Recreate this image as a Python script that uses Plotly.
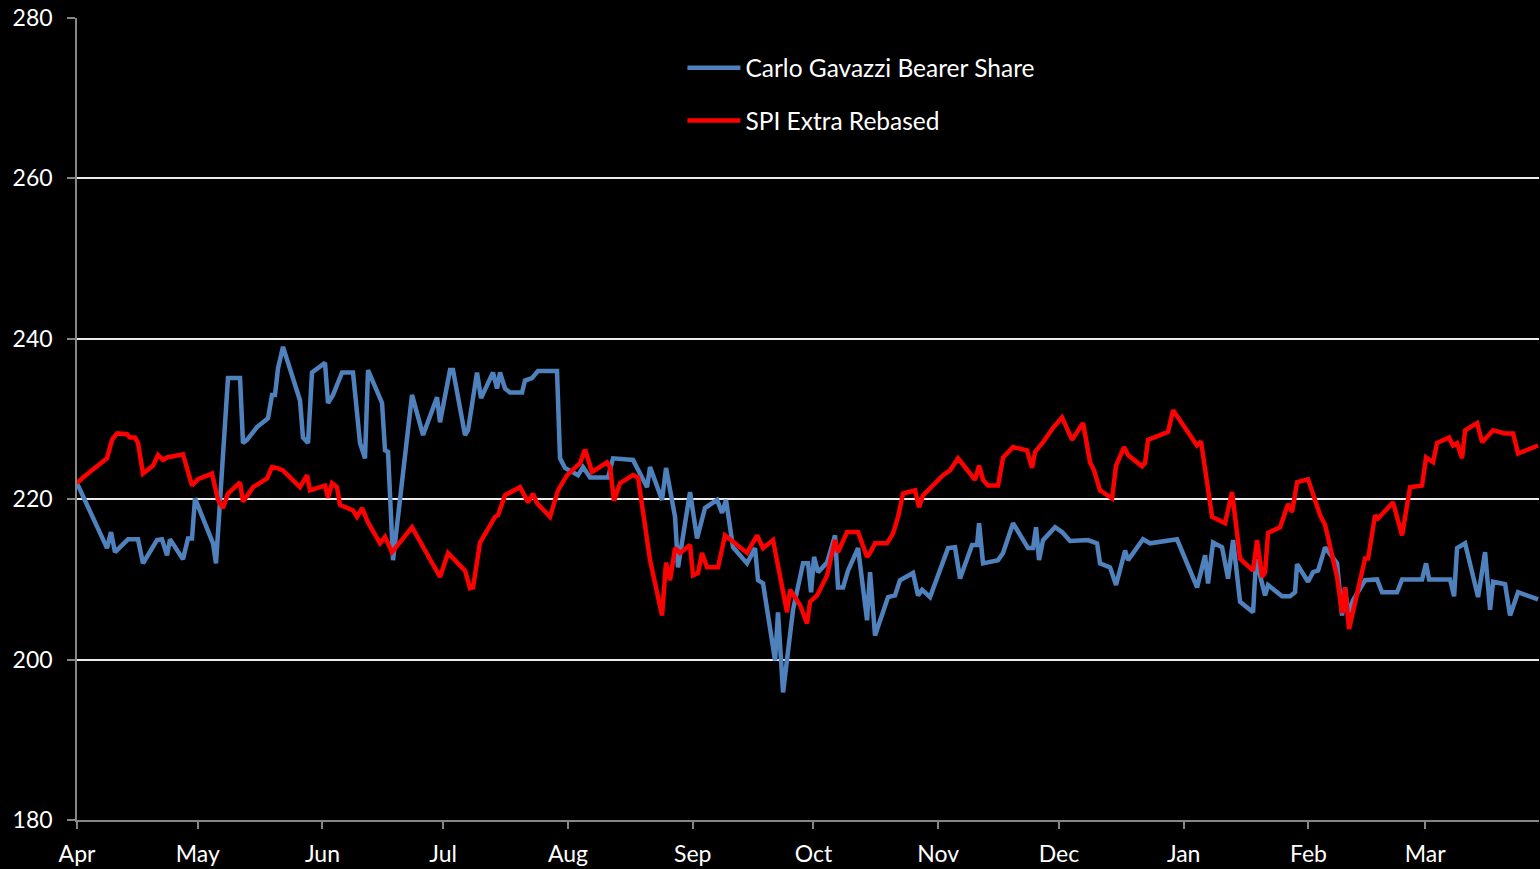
import pandas as pd
import plotly.graph_objects as go

START = "2011-04-01"

# Carlo Gavazzi Bearer Share: days since 1 Apr 2011, and values
cg_days = [0, 7.46, 8.45, 9.44, 12.67, 15.16, 16.40, 19.88, 21.12, 22.37, 23.11, 26.34, 27.58, 28.58,
           29.32, 32.55, 33.80, 34.54, 36.28, 37.52, 40.51, 41.25, 42.25, 44.73, 47.47, 48.46, 49.20,
           49.95, 51.19, 55.42, 56.16, 57.41, 58.40, 61.63, 62.38, 63.62, 65.86, 68.59, 70.33, 71.57,
           72.32, 75.80, 76.54, 77.29, 78.53, 83.25, 85.99, 89.46, 90.21, 92.69, 93.44, 96.42, 97.17,
           99.40, 100.40, 103.38, 104.37, 105.12, 106.36, 107.60, 110.59, 111.33, 113.07, 114.56,
           119.28, 120.03, 121.27, 124.50, 125.75, 127.49, 131.96, 133.20, 138.17, 141.65, 142.40,
           145.38, 146.37, 148.61, 149.35, 152.34, 154.08, 156.06, 159.05, 160.29, 161.28, 163.02,
           166.50, 168.49, 169.23, 170.48, 173.46, 174.20, 175.45, 177.93, 180.42, 181.66, 182.41,
           183.15, 184.15, 186.38, 188.37, 189.12, 190.36, 191.60, 194.09, 196.32, 197.07, 198.31,
           201.54, 203.28, 204.5, 207.75, 209.00, 209.99, 211.98, 216.45, 218.19, 219.43, 222.42,
           223.66, 224.16, 225.15, 228.88, 230.12, 232.60, 236.33, 237.57, 238.32, 239.07, 240.06,
           243.04, 244.78, 246.77, 251.24, 253.48, 254.22, 256.71, 258.20, 260.44, 261.18, 264.91,
           266.65, 273.36, 278.33, 280.32, 281.06, 282.31, 284.54, 286.03, 287.28, 289.02, 292.25,
           292.99, 295.23, 295.97, 299.45, 301.44, 302.68, 303.18, 305.91, 307.16, 308.40, 310.14,
           313.12, 314.36, 315.11, 315.85, 317.10, 320.08, 321.82, 323.06, 324.30, 328.03, 329.27,
           334.24, 335.24, 335.98, 341.20, 342.20, 342.94, 344.93, 348.16, 349.90, 351.14, 351.89,
           354.87, 356.11, 358.10, 363.07]
cg_vals = [222, 213.9, 215.9, 213.4, 215, 215, 212, 214.9, 215, 213, 215, 212.5, 215.1, 215.1,
           220.1, 215.9, 214.5, 212, 224.9, 235.1, 235.1, 227, 227.4, 229, 230.1, 233, 233,
           236.3, 239, 232.3, 227.7, 227, 235.8, 237, 232, 233, 235.8, 235.8, 227, 225.1,
           236.1, 232, 226.1, 225.9, 212.4, 233, 228, 232.7, 229.6, 236.1, 236.1, 228, 228.6,
           235.8, 232.6, 235.8, 233.8, 235.8, 233.8, 233.3, 233.3, 234.8, 235.1, 236,
           236, 225.1, 223.9, 223, 224, 222.7, 222.7, 225.1, 224.9, 221.5, 224,
           219.9, 223.9, 217.8, 211.5, 220.9, 215.1, 218.9, 219.9, 218.3, 219.9, 214,
           212, 213.9, 209.9, 209.5, 199.9, 205.9, 195.9, 206.2, 212, 212, 208.4,
           212.8, 210.9, 212.1, 215.5, 209, 209, 211.1, 213.9, 204.9, 210.9, 203,
           207.8, 208, 209.9, 210.8, 208, 208.7, 207.8, 213.9, 214, 210.1, 214.3,
           214.3, 217, 212, 212.4, 213.3, 217, 213.9, 213.9, 216.5, 212.4, 214.9,
           216.5, 215.9, 214.8, 214.9, 214.5, 212, 211.5, 209.3, 213.6, 212.4, 215,
           214.5, 215, 209, 213, 209.5, 214.6, 214, 210.1, 214.9, 207.2, 205.9,
           212.5, 208, 209.3, 207.9, 207.9, 208.4, 211.9, 209.7, 210.9, 211.1, 214,
           212, 205.5, 209, 205.8, 207.4, 209.9, 209.9, 210, 208.4, 208.4, 210,
           210, 212, 210, 210, 207.9, 213.9, 214.5, 207.8, 213.4, 206.2, 209.7,
           209.4, 205.5, 208.4, 207.5]

# SPI Extra Rebased: days since 1 Apr 2011, and values
spi_days = [0, 1.49, 6.21, 7.46, 8.70, 9.94, 12.43, 13.17, 14.41, 15.16, 16.40, 18.89, 20.13, 21.37,
            22.37, 26.34, 28.58, 30.07, 33.55, 35.04, 36.28, 37.52, 40.51, 41.25, 43.74, 47.22,
            48.46, 49.70, 51.19, 55.42, 57.16, 57.90, 61.63, 62.38, 63.37, 64.61, 65.36, 68.59,
            69.58, 70.83, 72.32, 75.30, 76.54, 78.28, 83.25, 90.21, 92.20, 96.42, 97.66, 98.41,
            100.15, 103.88, 104.62, 106.36, 110.09, 112.08, 113.32, 114.31, 117.54, 119.53, 121.77,
            125.00, 126.24, 127.98, 131.71, 132.46, 133.45, 134.94, 138.17, 139.41, 142.40, 145.38,
            146.37, 147.37, 148.61, 149.85, 152.34, 153.08, 154.32, 155.32, 156.56, 159.29, 161.03,
            166.50, 168.99, 170.48, 172.96, 174.70, 176.44, 177.19, 179.67, 181.41, 182.16, 183.90,
            186.38, 188.37, 189.12, 191.35, 194.09, 196.32, 197.07, 198.31, 201.29, 202.78, 204.03,
            205.27, 208.25, 209.24, 210.24, 211.48, 215.21, 216.95, 218.94, 223.16, 224.16, 225.15,
            226.39, 228.88, 230.12, 232.60, 236.08, 237.33, 238.07, 240.06, 242.54, 244.78, 247.27,
            250.00, 251.74, 252.73, 254.22, 257.21, 258.20, 260.19, 261.18, 264.66, 265.41, 266.15,
            271.12, 272.37, 278.33, 279.32, 282.06, 285.29, 287.03, 289.02, 292.25, 293.24, 294.48,
            295.23, 295.97, 298.96, 300.94, 301.94, 303.18, 305.91, 308.90, 310.14, 313.12, 314.36,
            315.11, 316.10, 318.09, 320.08, 320.83, 322.56, 323.31, 327.04, 329.27, 331.26, 334.24,
            335.24, 336.98, 337.97, 340.95, 341.95, 342.94, 344.18, 344.93, 347.91, 349.16, 351.89,
            354.87, 356.86, 358.10, 363.07]
spi_vals = [222, 222.7, 224.6, 225.1, 227.4, 228.2, 228.1, 227.7, 227.7, 227, 223.2, 224.2, 225.5, 224.9,
            225.2, 225.6, 221.7, 222.5, 223.2, 219.9, 218.9, 220.7, 222.1, 219.7, 221.5, 222.6,
            224, 223.9, 223.6, 221.5, 223, 221.1, 221.7, 220.2, 222, 221.5, 219.3, 218.6,
            217.8, 218.9, 217.1, 214.5, 215.3, 213.4, 216.5, 210.3, 213.3, 211.1, 208.9, 209,
            214.6, 217.8, 218, 220.5, 221.5, 219.6, 220.7, 219.5, 217.8, 221.1, 223,
            224.5, 226.2, 223.4, 224.6, 224, 219.8, 222, 223, 222.7, 212.4, 205.5,
            212.1, 209.9, 213.9, 213.3, 214.3, 210.5, 210.8, 213.3, 211.5, 211.5, 215.5,
            213.3, 215.5, 213.9, 214.9, 210.5, 205.9, 208.7, 206.8, 204.5, 207.2, 208,
            210.5, 214.9, 213.4, 215.9, 215.9, 212.8, 213.3, 214.5, 214.5, 215.7, 217.8,
            220.7, 221.1, 219, 220.5, 221.1, 223, 223.6, 225.1, 222.4, 224.2, 222.4,
            221.7, 221.7, 225.2, 226.5, 226.1, 223.9, 225.9, 227.1, 228.9, 230.2, 227.4,
            229.5, 224.6, 223.6, 221.1, 220.1, 224.2, 226.5, 225.5, 224.1, 224.5, 227.4,
            228.4, 231.1, 226.7, 227.2, 217.8, 217, 220.9, 212.6, 211.1, 214.9, 210.3,
            210.9, 215.8, 216.5, 219.4, 218.4, 222.1, 222.5, 218, 216.8, 210.3, 205.8,
            209, 203.8, 208.3, 212.6, 212.6, 218, 217.6, 219.6, 215.5, 221.5, 221.7,
            225.2, 224.6, 227, 227.7, 226.7, 227, 225.1, 228.6, 229.5, 227.1, 228.6,
            228.2, 228.2, 225.7, 226.7]

month_ticks = pd.date_range("2011-04-01", "2012-03-01", freq="MS")
y_ticks = [180, 200, 220, 240, 260, 280]

start = pd.Timestamp(START)
cg_x = start + pd.to_timedelta(cg_days, unit="D")
spi_x = start + pd.to_timedelta(spi_days, unit="D")

FONT = "Lato"

fig = go.Figure()
fig.add_trace(go.Scatter(x=cg_x, y=cg_vals, mode="lines", name="Carlo Gavazzi Bearer Share",
                         line=dict(color="#4f81bd", width=4.5), legendgroup="a"))
fig.add_trace(go.Scatter(x=spi_x, y=spi_vals, mode="lines", name="SPI Extra Rebased",
                         line=dict(color="#ff0000", width=4.5), legendgroup="b"))

fig.update_layout(
    width=1540, height=869,
    paper_bgcolor="black", plot_bgcolor="black",
    margin=dict(l=77, r=1, t=18, b=49),
    font=dict(family=FONT, size=23, color="white"),
    showlegend=True,
    legend=dict(x=0.4141, y=0.966, xanchor="left", yanchor="top", bgcolor="rgba(0,0,0,0)",
                font=dict(family=FONT, size=24.5, color="white"), tracegroupgap=18,
                itemwidth=53),
)
fig.update_xaxes(
    type="date",
    range=[start, start + pd.Timedelta(days=363.3)],
    tickvals=month_ticks, tickformat="%b",
    ticks="outside", ticklen=7, tickcolor="#868686", tickwidth=1.5,
    ticklabelstandoff=6,
    showline=True, linecolor="#868686", linewidth=1.5,
    showgrid=False, zeroline=False,
    tickfont=dict(family=FONT, size=23, color="white"),
)
fig.update_yaxes(
    range=[180, 280], tickvals=y_ticks,
    ticks="outside", ticklen=8, tickcolor="#868686", tickwidth=1.5,
    ticklabelstandoff=10,
    showline=True, linecolor="#868686", linewidth=1.5,
    showgrid=True, gridcolor="#ececec", gridwidth=2, zeroline=False,
    tickfont=dict(family=FONT, size=23, color="white"),
)

fig.write_html("out.html", config={"displayModeBar": False},
               post_script="document.body.style.margin='0';document.body.style.background='black';")
